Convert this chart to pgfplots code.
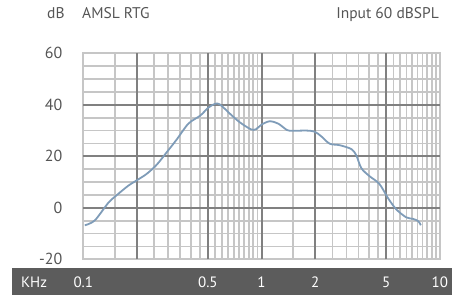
\documentclass[border=0pt]{standalone}
\usepackage{fontspec}
\setmainfont{PT Sans}
\usepackage{pgfplots}
\pgfplotsset{compat=1.18}
\definecolor{lightgrid}{HTML}{C6C6C6}
\definecolor{darkgrid}{HTML}{808080}
\definecolor{bandgray}{HTML}{5C5C5C}
\definecolor{txtgray}{HTML}{555555}
\definecolor{curveblue}{HTML}{7F9CB8}
\begin{document}
\begin{tikzpicture}
\useasboundingbox (0,0) rectangle (456pt,295pt);
\fill[bandgray] (12pt,0) rectangle (452pt,27pt);
\node[anchor=base west, text=txtgray, font=\fontsize{15.5}{17}\selectfont, inner sep=0pt] at (47pt,276pt) {dB};
\node[anchor=base west, text=txtgray, font=\fontsize{15.5}{17}\selectfont, inner sep=0pt] at (82pt,276pt) {AMSL RTG};
\node[anchor=base east, text=txtgray, font=\fontsize{15.5}{17}\selectfont, inner sep=0pt] at (439pt,276pt) {Input 60 dBSPL};
\node[anchor=base, text=white, font=\fontsize{15}{17}\selectfont, inner sep=0pt] at (34pt,7pt) {KHz};
\begin{axis}[
  at={(83.3pt,35.7pt)}, anchor=south west,
  scale only axis, width=356.5pt, height=206pt,
  xmode=log, xmin=0.1, xmax=10, ymin=-20, ymax=60,
  axis line style={draw=lightgrid, line width=1.8pt},
  xtick={0.1,0.5,1,2,5,10},
  xticklabels={0.1,0.5,1,2,5,10},
  ytick={-20,0,20,40,60},
  yticklabels={-20,0,20,40,60},
  major tick length=0pt, minor tick length=0pt,
  tick style={draw=none},
  minor xtick={0.15,0.2,0.25,0.3,0.35,0.4,0.45,0.55,0.6,0.65,0.7,0.75,0.8,0.85,0.9,0.95,1.5,2.5,3,3.5,4,4.5,5.5,6,6.5,7,7.5,8,8.5,9,9.5},
  minor ytick={-15,-10,-5,5,10,15,25,30,35,45,50,55},
  xminorgrids=true, yminorgrids=true,
  minor grid style={draw=lightgrid, line width=1.8pt},
  extra x ticks={0.2,0.5,1,2,5},
  extra x tick labels={},
  extra y ticks={0,20,40},
  extra y tick labels={},
  extra tick style={grid=major, major grid style={draw=darkgrid, line width=2.1pt}},
  xticklabel style={anchor=base, yshift=-28.7pt, text=white, font=\fontsize{15}{17}\selectfont},
  yticklabel style={anchor=east, xshift=-17.5pt, text=txtgray, font=\fontsize{16}{18}\selectfont},
  clip=false,
]
\addplot[curveblue, line width=1.8pt, smooth, tension=0.5] coordinates {
(0.102,-6.8)(0.116,-4.9)(0.138,1.9)(0.154,4.9)(0.179,8.6)(0.202,10.9)(0.227,13.2)(0.258,16.7)(0.294,21.6)(0.334,26.5)(0.389,32.7)(0.453,35.8)(0.503,38.9)(0.549,40.4)(0.585,40.1)(0.668,36.4)(0.752,33.3)(0.87,30.5)(0.93,30.5)(1.0,32.3)(1.11,33.6)(1.24,32.7)(1.39,30.2)(1.5,29.9)(1.78,30)(1.98,29.6)(2.16,27.8)(2.41,24.9)(2.75,24.3)(3.19,22.8)(3.40,20.4)(3.63,15.4)(4.03,12.3)(4.58,9.3)(5.13,3.7)(5.70,-0.6)(6.48,-3.7)(7.08,-4.3)(7.58,-5.2)(7.83,-6.8)
};
\end{axis}
\end{tikzpicture}
\end{document}
